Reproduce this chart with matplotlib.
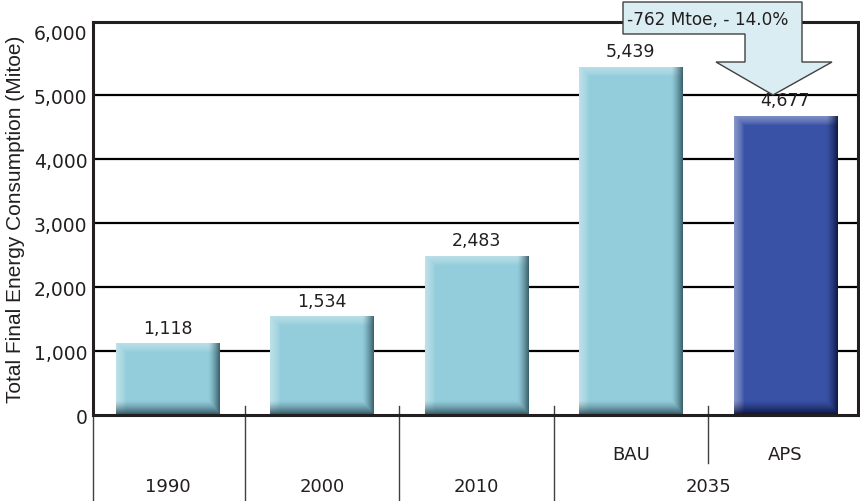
import numpy as np
import matplotlib
matplotlib.use("Agg")
import matplotlib.pyplot as plt
from matplotlib.patches import Polygon
from matplotlib.colors import to_rgb
import matplotlib.transforms as mtransforms

# data
years = ["1990", "2000", "2010", "2035"]
year_pos = [0, 1, 2, 3.5]
cases = ["BAU", "APS"]
case_pos = [3, 4]
consumption = [1118, 1534, 2483, 5439, 4677]
bar_colors = ["#93CDDB", "#93CDDB", "#93CDDB", "#93CDDB", "#3A52A6"]
yticks = [0, 1000, 2000, 3000, 4000, 5000, 6000]
gridvals = [1000, 2000, 3000, 4000, 5000]
callout_text = "-762 Mtoe, - 14.0%"

W, H = 860, 502
DPI = 100
LINE = "#231F20"


def bevel(color, w, h):
    # shaded bar face: light left/top edge, deep shade on right/bottom edge
    base = np.array(to_rgb(color))
    deep = base ** 2 * 0.45
    X, Y = np.meshgrid(np.arange(w) + 0.5, np.arange(h) + 0.5)
    light = np.maximum(0.40 * np.clip(1 - X / 10.0, 0, 1) ** 0.7,
                       0.35 * np.clip(1 - Y / 9.0, 0, 1) ** 0.7)
    dark = np.maximum(0.85 * np.clip(1 - (w - X) / 12.0, 0, 1) ** 1.4,
                      0.95 * np.clip(1 - (h - Y) / 15.0, 0, 1) ** 1.4)
    img = np.tile(base, (h, w, 1))
    img = img + (1 - img) * light[..., None]
    img = img * (1 - dark[..., None]) + deep * dark[..., None]
    return np.clip(img, 0, 1)


def px(x, y):
    return x / W, 1 - y / H


fig = plt.figure(figsize=(W / DPI, H / DPI), dpi=DPI)
ax = fig.add_axes([93 / W, 1 - 416 / H, 765 / W, 393 / H])

x = np.arange(len(consumption))
xlim = (-0.482, 4.47)
ylim = (0, 6150)

bars = ax.bar(x, consumption, width=0.667, color=bar_colors, zorder=2)
ax.set_xlim(*xlim)
ax.set_ylim(*ylim)

fig.canvas.draw()
for b, c in zip(bars, bar_colors):
    x0, y0 = b.get_x(), 0
    x1, y1 = b.get_x() + b.get_width(), b.get_height()
    (px0, py0), (px1, py1) = ax.transData.transform([(x0, y0), (x1, y1)])
    img = bevel(c, int(round(px1 - px0)), int(round(py1 - py0)))
    ax.imshow(img, extent=(x0, x1, y0, y1), aspect="auto", zorder=3,
              interpolation="nearest")
ax.set_xlim(*xlim)
ax.set_ylim(*ylim)

for g in gridvals:
    ax.axhline(g, color="black", lw=1.6, zorder=1)

for xi, v in zip(x, consumption):
    ax.annotate(f"{v:,}", (xi, v), xytext=(0, 5), textcoords="offset points",
                ha="center", va="bottom", fontsize=12.5, color="#231F20",
                family="DejaVu Sans", zorder=5)

ax.set_yticks(yticks)
ax.set_yticklabels([f"{t:,}" for t in yticks])
ax.tick_params(axis="y", length=0, pad=4, labelsize=13.5, labelcolor="#231F20")
ax.set_xticks([])
ax.set_ylabel("Total Final Energy Consumption (Mitoe)", family="Liberation Sans",
              fontsize=15, color="#231F20", labelpad=6)

for s in ax.spines.values():
    s.set_color(LINE)
    s.set_linewidth(2.2)
    s.set_zorder(4)

# two-level category axis below the plot
trans = mtransforms.blended_transform_factory(ax.transData, ax.transAxes)
for sx in [0.5, 1.5, 2.5]:
    ax.plot([sx, sx], [0.023, -0.22], color="#404040", lw=1, transform=trans,
            clip_on=False)
ax.plot([3.5, 3.5], [0.023, -0.122], color="#404040", lw=1, transform=trans,
        clip_on=False)
ax.plot([xlim[0], xlim[0]], [0, -0.22], color="#404040", lw=1, transform=trans,
        clip_on=False)
for lbl, p in zip(cases, case_pos):
    ax.text(p, -0.099, lbl, transform=trans, ha="center", va="center",
            fontsize=13, color="#231F20")
for lbl, p in zip(years, year_pos):
    ax.text(p, -0.181, lbl, transform=trans, ha="center", va="center",
            fontsize=13, color="#231F20")

# callout arrow with the reduction note
outline = [(623, 3), (802, 3), (802, 63), (832, 63), (773, 96), (716, 63),
           (745, 63), (745, 35), (623, 35)]
callout = Polygon([px(a, b) for a, b in outline], closed=True,
                  transform=fig.transFigure, facecolor="#DAEDF3",
                  edgecolor="#404040", lw=1, zorder=10)
fig.add_artist(callout)
fig.text(*px(627, 20), callout_text, ha="left", va="center", fontsize=12.2,
         color="#231F20", zorder=11)

fig.savefig("out.png", dpi=DPI)
